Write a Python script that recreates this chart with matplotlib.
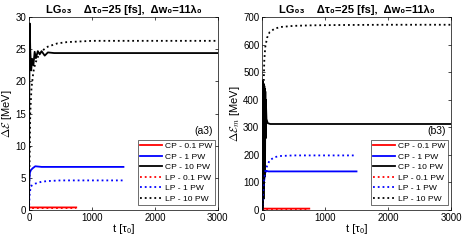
import numpy as np
import matplotlib
matplotlib.use("Agg")
import matplotlib.pyplot as plt

plt.rcParams['font.family'] = ['Liberation Sans', 'DejaVu Sans']
plt.rcParams['mathtext.fontset'] = 'cm'

labels = ["CP - 0.1 PW", "CP - 1 PW", "CP - 10 PW", "LP - 0.1 PW", "LP - 1 PW", "LP - 10 PW"]

# left panel (a3): energy gain
a_cp01_t = [0, 5, 750]
a_cp01_y = [0, 0.4, 0.4]
a_lp01_t = [0, 5, 750]
a_lp01_y = [0, 0.3, 0.3]
a_cp1_t = [0, 5, 15, 30, 60, 100, 200, 400, 1500]
a_cp1_y = [0, 4.5, 5.8, 6.2, 6.5, 6.8, 6.7, 6.7, 6.7]
a_lp1_t = [0, 10, 30, 60, 100, 200, 300, 500, 1500]
a_lp1_y = [0, 2.5, 3.7, 3.9, 4.1, 4.4, 4.5, 4.6, 4.6]
a_cp10_t = [0, 5, 12, 20, 35, 50, 70, 90, 110, 140, 170, 200, 250, 300, 400, 600, 3000]
a_cp10_y = [0, 18, 29, 25, 21.7, 23.5, 22.5, 24.6, 23.6, 24.7, 24.2, 24.7, 24.0, 24.5, 24.4, 24.4, 24.4]
a_lp10_t = [0, 10, 20, 40, 70, 100, 150, 200, 300, 450, 600, 800, 1000, 1500, 3000]
a_lp10_y = [0, 8, 15, 19, 21.5, 22.8, 24.0, 24.7, 25.4, 25.9, 26.1, 26.2, 26.3, 26.3, 26.3]

# right panel (b3): max energy
b_cp01_t = [0, 5, 750]
b_cp01_y = [0, 5, 5]
b_lp01_t = [0, 5, 750]
b_lp01_y = [0, 3, 3]
b_cp1_t = [0, 10, 30, 50, 70, 100, 200, 1500]
b_cp1_y = [0, 40, 100, 135, 142, 140, 140, 140]
b_lp1_t = [0, 10, 30, 50, 80, 120, 200, 300, 500, 1500]
b_lp1_y = [0, 40, 110, 140, 160, 180, 192, 196, 198, 198]
b_cp10_t = [0, 4, 8, 12, 16, 20, 24, 28, 32, 36, 40, 44, 48, 52, 56, 60, 70, 90, 130, 200, 3000]
b_cp10_y = [0, 470, 0, 465, 20, 460, 40, 455, 80, 450, 120, 440, 180, 430, 260, 400, 330, 315, 312, 312, 312]
b_lp10_t = [0, 10, 20, 35, 50, 80, 120, 200, 300, 500, 800, 1200, 2000, 3000]
b_lp10_y = [0, 200, 400, 540, 590, 625, 645, 658, 664, 668, 670, 671, 672, 672]

left_data = [(a_cp01_t, a_cp01_y), (a_cp1_t, a_cp1_y), (a_cp10_t, a_cp10_y),
             (a_lp01_t, a_lp01_y), (a_lp1_t, a_lp1_y), (a_lp10_t, a_lp10_y)]
right_data = [(b_cp01_t, b_cp01_y), (b_cp1_t, b_cp1_y), (b_cp10_t, b_cp10_y),
              (b_lp01_t, b_lp01_y), (b_lp1_t, b_lp1_y), (b_lp10_t, b_lp10_y)]

colors = ['#ff0000', '#0000ff', '#000000', '#ff0000', '#0000ff', '#000000']
styles = ['-', '-', '-', ':', ':', ':']

title = "LG\u2080\u2083    \u0394\u03c4\u2080=25 [fs],  \u0394w\u2080=11\u03bb\u2080"

fig = plt.figure(figsize=(4.63, 2.40), dpi=100)
ax1 = fig.add_axes([0.0626, 0.125, 0.408, 0.804])
ax2 = fig.add_axes([0.566, 0.125, 0.408, 0.804])

for ax, data, ylim, yticks, ylab, tag in [
        (ax1, left_data, 30, [0, 5, 10, 15, 20, 25, 30], r"$\Delta\mathcal{E}$ [MeV]", "(a3)"),
        (ax2, right_data, 700, [0, 100, 200, 300, 400, 500, 600, 700], r"$\Delta\mathcal{E}_m$ [MeV]", "(b3)")]:
    for (t, y), c, ls, lab in zip(data, colors, styles, labels):
        ax.plot(t, y, color=c, ls=ls, lw=1.3, label=lab)
    ax.set_xlim(0, 3000)
    ax.set_ylim(0, ylim)
    ax.set_xticks([0, 1000, 2000, 3000])
    ax.set_yticks(yticks)
    ax.tick_params(direction='in', top=True, right=True, labelsize=7, length=2.5, width=0.5, pad=2)
    for s in ax.spines.values():
        s.set_linewidth(0.5)
    ax.set_xlabel("t [\u03c4\u2080]", fontsize=8, labelpad=1)
    ax.set_ylabel(ylab, fontsize=8, labelpad=1)
    ax.set_title(title, fontsize=8, pad=3, fontweight='bold')
    leg = ax.legend(loc='lower right', fontsize=6.1, frameon=True, fancybox=False,
                    edgecolor='black', handlelength=2.6, borderpad=0.3, labelspacing=0.3,
                    handletextpad=0.35, borderaxespad=0.0, bbox_to_anchor=(0.985, 0.025))
    leg.get_frame().set_linewidth(0.5)
    ax.text(0.975, 0.385, tag, transform=ax.transAxes, ha='right', va='bottom', fontsize=7.5)

fig.savefig("out.png", dpi=100)
